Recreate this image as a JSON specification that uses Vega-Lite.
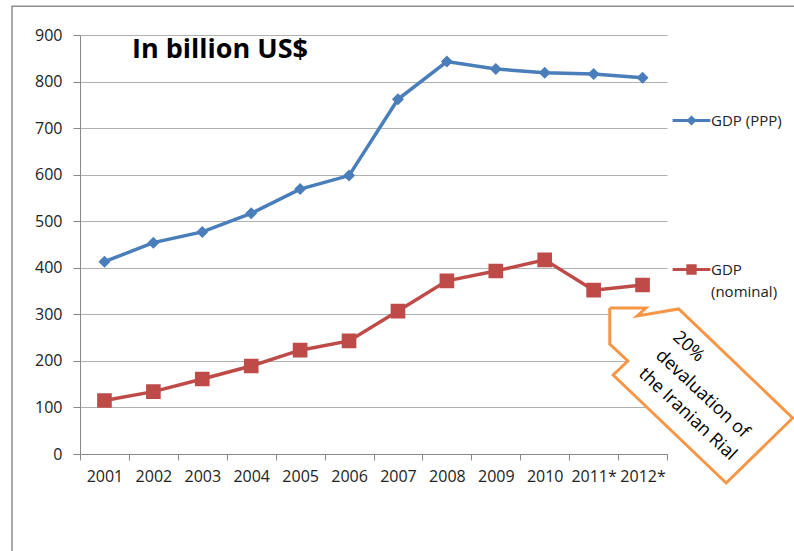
{
  "$schema": "https://vega.github.io/schema/vega-lite/v6.json",
  "width": 587,
  "height": 419,
  "autosize": {"type": "none"},
  "padding": {"left": 80, "top": 35, "right": 127, "bottom": 97},
  "background": "white",
  "config": {"view": {"stroke": null}, "font": "Open Sans"},
  "title": {
    "text": "In billion US$",
    "font": "Open Sans",
    "fontSize": 27,
    "fontWeight": "bold",
    "color": "#000000",
    "anchor": "start",
    "frame": "group",
    "orient": "top",
    "baseline": "alphabetic",
    "offset": 0,
    "dx": 52,
    "dy": 82
  },
  "datasets": {
    "gdp": [
      {"year": "2001", "series": "GDP (PPP)", "value": 413},
      {"year": "2002", "series": "GDP (PPP)", "value": 454},
      {"year": "2003", "series": "GDP (PPP)", "value": 477},
      {"year": "2004", "series": "GDP (PPP)", "value": 517},
      {"year": "2005", "series": "GDP (PPP)", "value": 569},
      {"year": "2006", "series": "GDP (PPP)", "value": 598},
      {"year": "2007", "series": "GDP (PPP)", "value": 762},
      {"year": "2008", "series": "GDP (PPP)", "value": 843},
      {"year": "2009", "series": "GDP (PPP)", "value": 827},
      {"year": "2010", "series": "GDP (PPP)", "value": 819},
      {"year": "2011*", "series": "GDP (PPP)", "value": 816},
      {"year": "2012*", "series": "GDP (PPP)", "value": 808},
      {"year": "2001", "series": "GDP (nominal)", "value": 115},
      {"year": "2002", "series": "GDP (nominal)", "value": 134},
      {"year": "2003", "series": "GDP (nominal)", "value": 161},
      {"year": "2004", "series": "GDP (nominal)", "value": 189},
      {"year": "2005", "series": "GDP (nominal)", "value": 223},
      {"year": "2006", "series": "GDP (nominal)", "value": 243},
      {"year": "2007", "series": "GDP (nominal)", "value": 307},
      {"year": "2008", "series": "GDP (nominal)", "value": 372},
      {"year": "2009", "series": "GDP (nominal)", "value": 393},
      {"year": "2010", "series": "GDP (nominal)", "value": 417},
      {"year": "2011*", "series": "GDP (nominal)", "value": 352},
      {"year": "2012*", "series": "GDP (nominal)", "value": 363}
    ],
    "arrow": [
      {"i": 0, "x": 10.33, "y": 313.6},
      {"i": 1, "x": 11.07, "y": 313.6},
      {"i": 2, "x": 10.89, "y": 296.4},
      {"i": 3, "x": 11.74, "y": 311.5},
      {"i": 4, "x": 14.07, "y": 77.3},
      {"i": 5, "x": 12.71, "y": -62.3},
      {"i": 6, "x": 10.4, "y": 169.7},
      {"i": 7, "x": 10.7, "y": 199.8},
      {"i": 8, "x": 10.33, "y": 236.3},
      {"i": 9, "x": 10.33, "y": 313.6}
    ],
    "frame": [
      {"i": 0, "x": -1.89, "y": -215},
      {"i": 1, "x": -1.89, "y": 962},
      {"i": 2, "x": 14.8, "y": 962}
    ],
    "note": [
      {"x": 11.67, "y": 256, "text": ["20%", "devaluation of", "the Iranian Rial"]}
    ]
  },
  "layer": [
    {
      "data": {"name": "gdp"},
      "encoding": {
        "x": {
          "field": "year",
          "type": "ordinal",
          "sort": null,
          "bandPosition": 0.5,
          "scale": {"type": "band", "paddingInner": 0, "paddingOuter": 0},
          "axis": {
            "title": null,
            "tickBand": "extent",
            "labelAngle": 0,
            "tickSize": 6,
            "labelPadding": 8,
            "labelFont": "Open Sans",
            "labelFontSize": 16,
            "labelColor": "#222222",
            "domainColor": "#888888",
            "tickColor": "#888888",
            "grid": false
          }
        },
        "y": {
          "field": "value",
          "type": "quantitative",
          "scale": {"domain": [0, 900], "nice": false},
          "axis": {
            "title": null,
            "values": [0, 100, 200, 300, 400, 500, 600, 700, 800, 900],
            "tickSize": 7,
            "labelPadding": 11,
            "labelFont": "Open Sans",
            "labelFontSize": 16,
            "labelColor": "#222222",
            "domainColor": "#888888",
            "tickColor": "#888888",
            "gridColor": "#b0b0b0",
            "grid": true
          }
        },
        "color": {
          "field": "series",
          "type": "nominal",
          "scale": {"domain": ["GDP (PPP)", "GDP (nominal)"], "range": ["#4a7ebb", "#be4b48"]},
          "legend": {
            "title": null,
            "orient": "none",
            "legendX": 604,
            "legendY": 78,
            "padding": 0,
            "symbolSize": 36,
            "labelFont": "Open Sans",
            "labelFontSize": 15,
            "labelColor": "#222222",
            "labelOffset": 12,
            "labelLimit": 300,
            "labelBaseline": "alphabetic",
            "rowPadding": 129,
            "labelExpr": "datum.label == 'GDP (nominal)' ? ['GDP', '(nominal)'] : datum.label",
            "encode": {
              "symbols": {"update": {"stroke": {"scale": "color", "field": "value"}, "strokeWidth": {"value": 3}}},
              "labels": {"update": {"dy": {"value": 5}, "lineHeight": {"value": 22}}}
            }
          }
        }
      },
      "layer": [
        {"mark": {"type": "line", "strokeWidth": 3.5}},
        {
          "mark": {"type": "point", "filled": true, "opacity": 1, "size": 144, "strokeWidth": 0},
          "encoding": {
            "shape": {
              "field": "series",
              "type": "nominal",
              "scale": {
                "domain": ["GDP (PPP)", "GDP (nominal)"],
                "range": ["M-6.3,0H6.3M0,-1L1,0L0,1L-1,0Z", "M-6.3,0H6.3M-1.22,-1.22H1.22V1.22H-1.22Z"]
              },
              "legend": {
                "title": null,
                "orient": "none",
                "legendX": 604,
                "legendY": 78,
                "padding": 0,
                "symbolSize": 36,
                "labelFont": "Open Sans",
                "labelFontSize": 15,
                "labelColor": "#222222",
                "labelOffset": 12,
                "labelLimit": 300,
                "labelBaseline": "alphabetic",
                "rowPadding": 129,
                "labelExpr": "datum.label == 'GDP (nominal)' ? ['GDP', '(nominal)'] : datum.label",
                "encode": {
                  "symbols": {"update": {"stroke": {"scale": "color", "field": "value"}, "strokeWidth": {"value": 3}}},
                  "labels": {"update": {"dy": {"value": 5}, "lineHeight": {"value": 22}}}
                }
              }
            }
          }
        }
      ]
    },
    {
      "encoding": {
        "x": {"field": "x", "type": "quantitative", "scale": {"domain": [-0.5, 11.5], "nice": false, "zero": false}, "axis": null},
        "y": {"field": "y", "type": "quantitative", "scale": {"domain": [0, 900], "nice": false, "zero": false}, "axis": null}
      },
      "layer": [
        {
          "data": {"name": "frame"},
          "mark": {"type": "line", "stroke": "#8c8c8c", "strokeWidth": 1.5},
          "encoding": {"order": {"field": "i", "type": "quantitative"}}
        },
        {
          "data": {"name": "arrow"},
          "mark": {"type": "line", "filled": true, "stroke": "#f79646", "strokeWidth": 3, "fill": "white", "strokeJoin": "miter"},
          "encoding": {"order": {"field": "i", "type": "quantitative"}}
        },
        {
          "data": {"name": "note"},
          "mark": {"type": "text", "angle": 43, "align": "left", "baseline": "middle", "font": "Open Sans", "fontSize": 18, "lineHeight": 25, "color": "#000000"},
          "encoding": {"text": {"field": "text"}}
        }
      ]
    }
  ],
  "resolve": {"scale": {"x": "independent", "y": "independent"}}
}
